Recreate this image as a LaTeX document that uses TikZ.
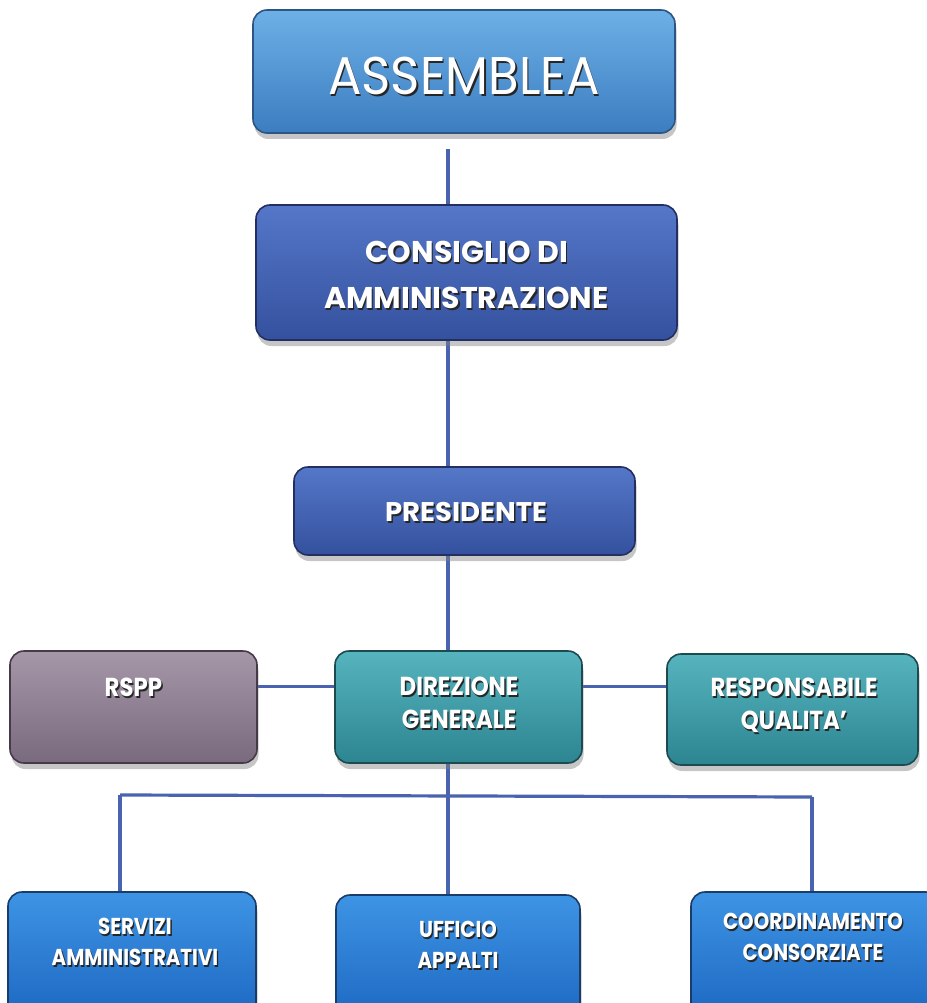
\documentclass[tikz,border=0pt]{standalone}
\usepackage{fontspec}
\setmainfont{Poppins}
\usetikzlibrary{shadows,backgrounds}
\definecolor{asmT}{HTML}{6CB0E6}
\definecolor{asmB}{HTML}{3C7DC0}
\definecolor{asmD}{HTML}{2C5484}
\definecolor{cdaT}{HTML}{5577C8}
\definecolor{cdaB}{HTML}{34519E}
\definecolor{cdaD}{HTML}{232F62}
\definecolor{rspT}{HTML}{A596A8}
\definecolor{rspB}{HTML}{7A6A7E}
\definecolor{rspD}{HTML}{463A48}
\definecolor{dgT}{HTML}{56B4BE}
\definecolor{dgB}{HTML}{2C8591}
\definecolor{dgD}{HTML}{1C4A50}
\definecolor{botT}{HTML}{3E94E4}
\definecolor{botB}{HTML}{1D68C2}
\definecolor{botD}{HTML}{1A3C6A}
\definecolor{lineC}{HTML}{4A63B0}
\newcommand\shd[1]{\makebox[0pt][l]{\hspace{1.5pt}\raisebox{-1.8pt}{\color{black!85}#1}}#1}
\newcommand\cnd[1]{\scalebox{0.88}[1]{\shd{#1}}}
\newcommand\cndb[1]{\scalebox{0.86}[1]{\shd{#1}}}
\tikzset{
  orgbox/.style={line width=1.6pt, rounded corners=14pt, inner sep=0pt,
    drop shadow={opacity=0.45, shadow xshift=1.5pt, shadow yshift=-6pt},
    text=white, align=center},
  asmbox/.style={orgbox, top color=asmT, bottom color=asmB, draw=asmD},
  cdabox/.style={orgbox, top color=cdaT, bottom color=cdaB, draw=cdaD},
  rspbox/.style={orgbox, top color=rspT, bottom color=rspB, draw=rspD},
  dgbox/.style={orgbox, top color=dgT, bottom color=dgB, draw=dgD},
  botbox/.style={orgbox, top color=botT, bottom color=botB, draw=botD},
  lbl/.style={text=white, align=center, inner sep=0pt},
  midfont/.style={font=\bfseries\fontsize{26}{33}\selectfont},
  botfont/.style={font=\bfseries\fontsize{23}{31}\selectfont},
  conn/.style={draw=lineC, line width=3.2pt}
}
\begin{document}
\begin{tikzpicture}[x=1pt,y=-1pt]
\useasboundingbox (0,0) rectangle (926,1003);
% top levels
\node[asmbox, minimum width=422pt, minimum height=123pt] (asm) at (464,71.5) {};
\node[lbl, font=\fontsize{53}{60}\selectfont] (asm-t) at (464,77)
  {\scalebox{0.94}[1]{\shd{ASSEMBLEA}}};
\node[cdabox, minimum width=421pt, minimum height=135pt] (cda) at (466.5,272.5) {};
\node[lbl, font=\bfseries\fontsize{30}{46}\selectfont] (cda-t) at (466.5,276)
  {\scalebox{1.0}[1]{\shd{CONSIGLIO DI}}\\\scalebox{1.0}[1]{\shd{AMMINISTRAZIONE}}};
\node[cdabox, minimum width=341pt, minimum height=88pt] (pres) at (464.5,511) {};
\node[lbl, font=\bfseries\fontsize{27}{32}\selectfont] (pres-t) at (466,513)
  {\scalebox{1.02}[1]{\shd{PRESIDENTE}}};
% middle row
\node[rspbox, minimum width=247pt, minimum height=112pt] (rspp) at (133.5,707) {};
\node[lbl, midfont] (rspp-t) at (133.5,688) {\cnd{RSPP}};
\node[dgbox, minimum width=247pt, minimum height=112pt] (dg) at (458.5,707) {};
\node[lbl, midfont] (dg-t) at (459,704)
  {\cnd{DIREZIONE}\\\cnd{GENERALE}};
\node[dgbox, minimum width=251pt, minimum height=111pt] (rq) at (792.5,709.5) {};
\node[lbl, midfont] (rq-t) at (794,706)
  {\cnd{RESPONSABILE}\\\cnd{QUALITA'}};
% bottom row
\node[botbox, minimum width=248pt, minimum height=125pt] (sa) at (132,954.5) {};
\node[lbl, botfont] (sa-t) at (135,943)
  {\cndb{SERVIZI}\\\cndb{AMMINISTRATIVI}};
\node[botbox, minimum width=244pt, minimum height=125pt] (ua) at (458,957.5) {};
\node[lbl, botfont] (ua-t) at (458,946)
  {\cndb{UFFICIO}\\\cndb{APPALTI}};
\node[botbox, minimum width=249pt, minimum height=125pt] (cc) at (815.5,954.5) {};
\node[lbl, botfont] (cc-t) at (813,938)
  {\cndb{COORDINAMENTO}\\\cndb{CONSORZIATE}};
% connectors
\coordinate (vx) at (448,0);
\coordinate (hl) at (0,686.5);
\coordinate (bm) at (448,796);
\coordinate (bl) at (120,795);
\coordinate (br) at (812,797);
\begin{scope}[on background layer]
\draw[conn] ([yshift=-15pt]asm.south -| vx) -- (cda.north -| vx);
\draw[conn] (cda.south -| vx) -- (pres.north -| vx);
\draw[conn] (pres.south -| vx) -- (dg.north -| vx);
\draw[conn] (rspp.east |- hl) -- (dg.west |- hl);
\draw[conn] (dg.east |- hl) -- (rq.west |- hl);
\draw[conn] (dg.south -| vx) -- (bm);
\draw[conn] (bl) -- (br);
\draw[conn] (bl) -- (sa.north -| bl);
\draw[conn] (bm) -- (ua.north -| bm);
\draw[conn] (br) -- (cc.north -| br);
\end{scope}
\end{tikzpicture}
\end{document}
